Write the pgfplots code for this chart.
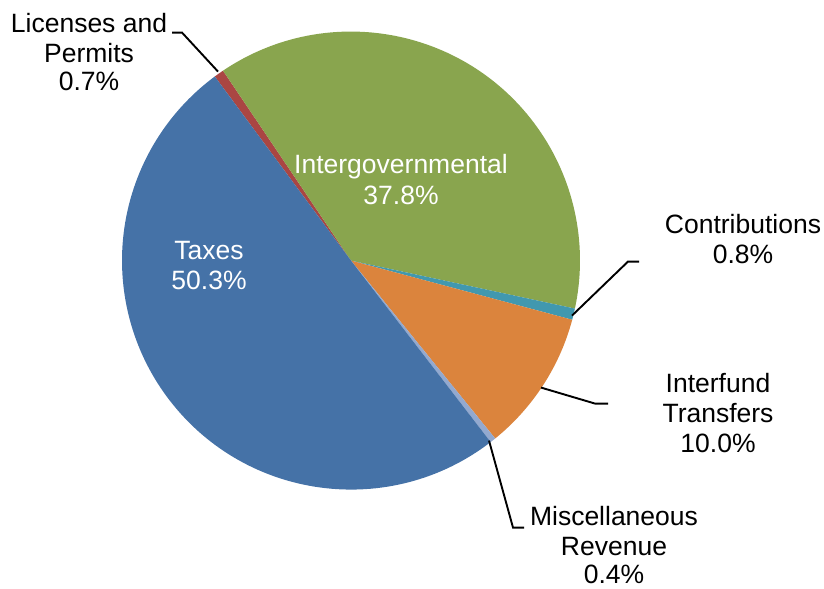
\documentclass[border=0pt]{standalone}
\usepackage{pgfplots}
\pgfplotsset{compat=1.18}
\usepackage{fontspec}
\setmainfont{Liberation Sans}
\definecolor{cTax}{RGB}{69,114,167}
\definecolor{cLic}{RGB}{170,70,67}
\definecolor{cInt}{RGB}{137,165,78}
\definecolor{cCon}{RGB}{65,152,175}
\definecolor{cTra}{RGB}{219,132,61}
\definecolor{cMis}{RGB}{147,169,207}
% slice: start angle, percentage, colour (clockwise)
\newcommand\slice[3]{\fill[#3] (axis cs:351,328) -- ++(#1:229bp) arc[start angle=#1, delta angle={-3.6*#2}, radius=229bp] -- cycle;}
\begin{document}
\begin{tikzpicture}
\begin{axis}[hide axis, scale only axis, width=824bp, height=588bp,
  xmin=0, xmax=824, ymin=0, ymax=588, clip=false]
\path (axis cs:0,0) rectangle (axis cs:824,588);
% values: Licenses 0.7, Intergovernmental 37.8, Contributions 0.8, Interfund 10.0, Misc 0.4, Taxes 50.3
\slice{126.5}{0.7}{cLic}
\slice{123.98}{37.8}{cInt}
\slice{-12.1}{0.8}{cCon}
\slice{-14.98}{10.0}{cTra}
\slice{-50.98}{0.4}{cMis}
\slice{-52.42}{50.3}{cTax}
% leader lines
\draw[black, line width=1.9bp] (axis cs:218,517) -- (axis cs:182,556) -- (axis cs:172,556);
\draw[black, line width=1.9bp] (axis cs:572,273) -- (axis cs:628,327) -- (axis cs:639,327);
\draw[black, line width=1.9bp] (axis cs:541,201) -- (axis cs:595,185) -- (axis cs:608,185);
\draw[black, line width=1.9bp] (axis cs:489,148) -- (axis cs:513,61) -- (axis cs:524,61);
% labels
\begin{scope}[every node/.style={anchor=base, inner sep=0pt, font=\fontsize{26.5bp}{30bp}\selectfont}]
\node at (axis cs:89,556) {Licenses and};
\node at (axis cs:89,526) {Permits};
\node at (axis cs:89,498) {0.7\%};
\node at (axis cs:743,355) {Contributions};
\node at (axis cs:743,325) {0.8\%};
\node at (axis cs:718,196) {Interfund};
\node at (axis cs:718,166) {Transfers};
\node at (axis cs:718,136) {10.0\%};
\node at (axis cs:614,63) {Miscellaneous};
\node at (axis cs:614,33) {Revenue};
\node at (axis cs:614,5) {0.4\%};
\node[white] at (axis cs:401,415) {Intergovernmental};
\node[white] at (axis cs:401,384) {37.8\%};
\node[white] at (axis cs:209,329) {Taxes};
\node[white] at (axis cs:209,299) {50.3\%};
\end{scope}
\end{axis}
\end{tikzpicture}
\end{document}
